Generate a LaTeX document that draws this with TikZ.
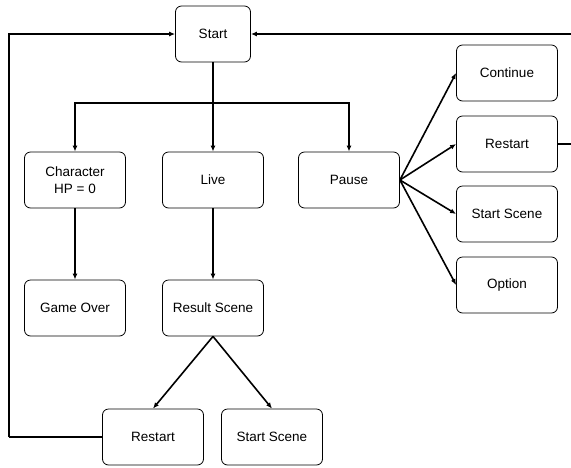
\documentclass[tikz,border=0pt]{standalone}
\usepackage{fontspec}
\setmainfont{Liberation Sans}
\usetikzlibrary{positioning, calc, arrows.meta}

\tikzset{
    block/.style={draw, rounded corners=6pt, line width=0.8pt, minimum width=101pt,
        minimum height=56pt, align=center, font=\fontsize{13.5}{17}\selectfont},
    flow/.style={line width=1.6pt, -{Latex[length=6pt,width=5pt]}},
    link/.style={line width=1.6pt}
}

\begin{document}
\begin{tikzpicture}[x=1pt, y=-1pt]
    \useasboundingbox (0,0) rectangle (571,467);

    % Top start box
    \node[block, minimum width=75pt] (start) at (213,34) {Start};

    % Middle row
    \node[block] (dead)  at (75,180)  {Character\\HP = 0};
    \node[block] (live)  at (213,180) {Live};
    \node[block] (pause) at (349,180) {Pause};

    % Results under the left branches
    \node[block] (over)   at (75,308)  {Game Over};
    \node[block] (result) at (213,308) {Result Scene};

    % Bottom row
    \node[block] (restartA) at (153,437) {Restart};
    \node[block] (sceneA)   at (272,437) {Start Scene};

    % Pause menu column
    \node[block] (cont)     at (507,73)  {Continue};
    \node[block] (restartB) at (507,144) {Restart};
    \node[block] (sceneB)   at (507,214) {Start Scene};
    \node[block] (option)   at (507,285) {Option};

    % Split from start into the three branches
    \coordinate (bus) at (213,103);
    \draw[flow] (start) -- (live);
    \draw[flow] (bus) -| (dead);
    \draw[flow] (bus) -| (pause);

    \draw[flow] (dead) -- (over);
    \draw[flow] (live) -- (result);

    % Result scene fans out
    \draw[flow] (result.south) -- (restartA.north);
    \draw[flow] (result.south) -- (sceneA.north);

    % Pause menu fans out
    \draw[flow] (pause.east) -- (cont.west);
    \draw[flow] (pause.east) -- (restartB.west);
    \draw[flow] (pause.east) -- (sceneB.west);
    \draw[flow] (pause.east) -- (option.west);

    % Loops back to start
    \coordinate (leftrail) at (9,437);
    \coordinate (rightrail) at (572,144);
    \draw[link] (restartA.west) -- (leftrail);
    \draw[flow] (leftrail) |- (start.west);
    \draw[link] (restartB.east) -- (rightrail);
    \draw[flow] (rightrail) |- (start.east);

\end{tikzpicture}
\end{document}
